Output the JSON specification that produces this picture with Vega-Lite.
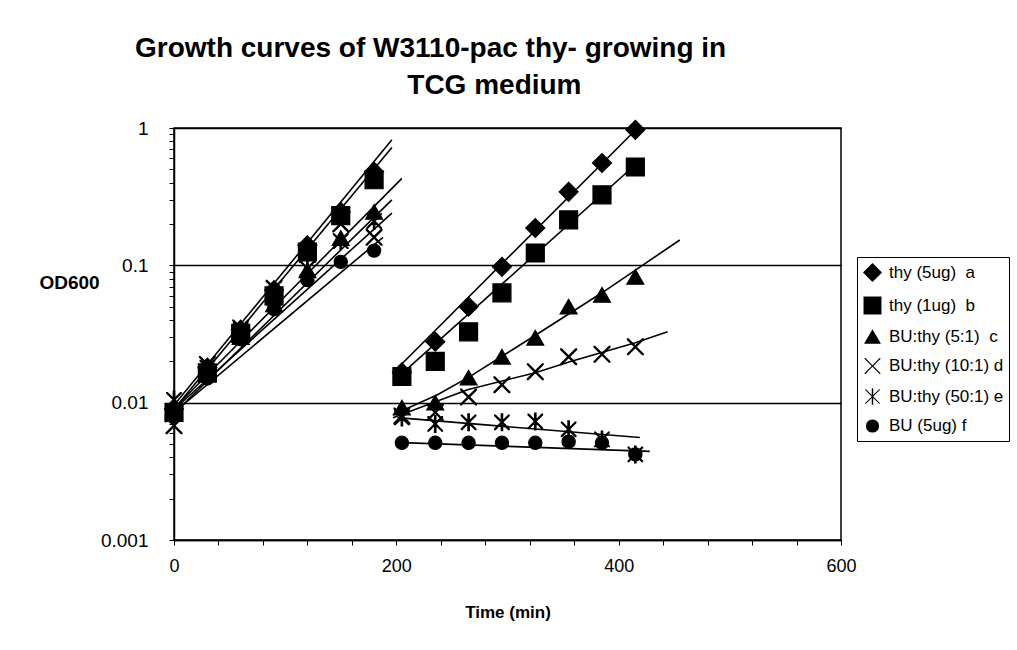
{
  "$schema": "https://vega.github.io/schema/vega-lite/v6.json",
  "width": 667,
  "height": 412,
  "autosize": {"type": "none"},
  "padding": {"left": 174, "top": 128, "right": 176, "bottom": 110},
  "background": "white",
  "title": {
    "text": ["Growth curves of W3110-pac thy- growing in", "\u200b\u00a0\u00a0\u00a0\u00a0\u00a0\u00a0\u00a0\u00a0\u00a0\u00a0\u00a0\u00a0\u00a0\u00a0\u00a0\u00a0\u00a0\u00a0\u00a0\u00a0\u00a0\u00a0\u00a0\u00a0\u00a0\u00a0\u00a0\u00a0\u00a0\u00a0\u00a0\u00a0\u00a0\u00a0\u00a0TCG medium"],
    "anchor": "start",
    "frame": "group",
    "dx": -39,
    "dy": -8,
    "fontSize": 28,
    "font": "Liberation Sans",
    "fontWeight": "bold",
    "color": "black",
    "lineHeight": 37,
    "offset": 10
  },
  "config": {
    "font": "Liberation Sans",
    "view": {"stroke": "black", "strokeWidth": 1.5},
    "axis": {
      "domainColor": "black",
      "domainWidth": 1.5,
      "tickColor": "black",
      "labelColor": "black",
      "titleColor": "black",
      "labelFont": "Liberation Sans",
      "titleFont": "Liberation Sans",
      "labelFlush": false,
      "labelOverlap": false
    }
  },
  "datasets": {
    "pts": [
      {"series": "a", "t": 0, "v": 0.009}, {"series": "a", "t": 30, "v": 0.018}, {"series": "a", "t": 60, "v": 0.034}, {"series": "a", "t": 90, "v": 0.066}, {"series": "a", "t": 120, "v": 0.14}, {"series": "a", "t": 150, "v": 0.245}, {"series": "a", "t": 180, "v": 0.48},
      {"series": "a", "t": 205, "v": 0.0166}, {"series": "a", "t": 235, "v": 0.0278}, {"series": "a", "t": 265, "v": 0.05}, {"series": "a", "t": 295, "v": 0.0975}, {"series": "a", "t": 325, "v": 0.187}, {"series": "a", "t": 355, "v": 0.343}, {"series": "a", "t": 385, "v": 0.556}, {"series": "a", "t": 415, "v": 0.97},
      {"series": "b", "t": 0, "v": 0.0085}, {"series": "b", "t": 30, "v": 0.0165}, {"series": "b", "t": 60, "v": 0.032}, {"series": "b", "t": 90, "v": 0.06}, {"series": "b", "t": 120, "v": 0.125}, {"series": "b", "t": 150, "v": 0.23}, {"series": "b", "t": 180, "v": 0.42},
      {"series": "b", "t": 205, "v": 0.0155}, {"series": "b", "t": 235, "v": 0.02}, {"series": "b", "t": 265, "v": 0.0328}, {"series": "b", "t": 295, "v": 0.063}, {"series": "b", "t": 325, "v": 0.123}, {"series": "b", "t": 355, "v": 0.214}, {"series": "b", "t": 385, "v": 0.326}, {"series": "b", "t": 415, "v": 0.52},
      {"series": "c", "t": 0, "v": 0.0088}, {"series": "c", "t": 30, "v": 0.016}, {"series": "c", "t": 60, "v": 0.03}, {"series": "c", "t": 90, "v": 0.052}, {"series": "c", "t": 120, "v": 0.092}, {"series": "c", "t": 150, "v": 0.158}, {"series": "c", "t": 180, "v": 0.245},
      {"series": "c", "t": 205, "v": 0.0092}, {"series": "c", "t": 235, "v": 0.01}, {"series": "c", "t": 265, "v": 0.0152}, {"series": "c", "t": 295, "v": 0.0216}, {"series": "c", "t": 325, "v": 0.0297}, {"series": "c", "t": 355, "v": 0.05}, {"series": "c", "t": 385, "v": 0.061}, {"series": "c", "t": 415, "v": 0.0825},
      {"series": "d", "t": 0, "v": 0.0068}, {"series": "d", "t": 30, "v": 0.019}, {"series": "d", "t": 60, "v": 0.035}, {"series": "d", "t": 90, "v": 0.068}, {"series": "d", "t": 120, "v": 0.12}, {"series": "d", "t": 150, "v": 0.2}, {"series": "d", "t": 180, "v": 0.16},
      {"series": "d", "t": 205, "v": 0.008}, {"series": "d", "t": 235, "v": 0.0085}, {"series": "d", "t": 265, "v": 0.011}, {"series": "d", "t": 295, "v": 0.0135}, {"series": "d", "t": 325, "v": 0.0168}, {"series": "d", "t": 355, "v": 0.0216}, {"series": "d", "t": 385, "v": 0.0225}, {"series": "d", "t": 415, "v": 0.0255},
      {"series": "e", "t": 0, "v": 0.0105}, {"series": "e", "t": 30, "v": 0.018}, {"series": "e", "t": 60, "v": 0.034}, {"series": "e", "t": 90, "v": 0.058}, {"series": "e", "t": 120, "v": 0.095}, {"series": "e", "t": 150, "v": 0.15}, {"series": "e", "t": 180, "v": 0.21},
      {"series": "e", "t": 205, "v": 0.0078}, {"series": "e", "t": 235, "v": 0.007}, {"series": "e", "t": 265, "v": 0.0072}, {"series": "e", "t": 295, "v": 0.0072}, {"series": "e", "t": 325, "v": 0.0073}, {"series": "e", "t": 355, "v": 0.0064}, {"series": "e", "t": 385, "v": 0.0054}, {"series": "e", "t": 415, "v": 0.0042},
      {"series": "f", "t": 0, "v": 0.008}, {"series": "f", "t": 30, "v": 0.015}, {"series": "f", "t": 60, "v": 0.029}, {"series": "f", "t": 90, "v": 0.048}, {"series": "f", "t": 120, "v": 0.078}, {"series": "f", "t": 150, "v": 0.106}, {"series": "f", "t": 180, "v": 0.128},
      {"series": "f", "t": 205, "v": 0.0051}, {"series": "f", "t": 235, "v": 0.0051}, {"series": "f", "t": 265, "v": 0.0051}, {"series": "f", "t": 295, "v": 0.0051}, {"series": "f", "t": 325, "v": 0.0051}, {"series": "f", "t": 355, "v": 0.0052}, {"series": "f", "t": 385, "v": 0.0051}, {"series": "f", "t": 415, "v": 0.0042}
    ],
    "trend": [
      {"series": "a", "seg": "L", "t": -8, "v": 0.008}, {"series": "a", "seg": "L", "t": 196, "v": 0.82},
      {"series": "a", "seg": "R", "t": 197, "v": 0.0165}, {"series": "a", "seg": "R", "t": 417, "v": 1.0},
      {"series": "b", "seg": "L", "t": -8, "v": 0.0075}, {"series": "b", "seg": "L", "t": 196, "v": 0.72},
      {"series": "b", "seg": "R", "t": 199, "v": 0.0147}, {"series": "b", "seg": "R", "t": 415, "v": 0.54},
      {"series": "c", "seg": "L", "t": -8, "v": 0.0078}, {"series": "c", "seg": "L", "t": 205, "v": 0.43},
      {"series": "c", "seg": "R", "t": 197, "v": 0.00818}, {"series": "c", "seg": "R", "t": 237, "v": 0.01143}, {"series": "c", "seg": "R", "t": 266, "v": 0.01546}, {"series": "c", "seg": "R", "t": 323, "v": 0.0302}, {"series": "c", "seg": "R", "t": 385, "v": 0.0631}, {"series": "c", "seg": "R", "t": 455, "v": 0.153},
      {"series": "d", "seg": "L", "t": -8, "v": 0.0072}, {"series": "d", "seg": "L", "t": 196, "v": 0.3},
      {"series": "d", "seg": "R", "t": 197, "v": 0.00778}, {"series": "d", "seg": "R", "t": 264, "v": 0.01244}, {"series": "d", "seg": "R", "t": 325, "v": 0.01653}, {"series": "d", "seg": "R", "t": 356, "v": 0.01986}, {"series": "d", "seg": "R", "t": 415, "v": 0.0273}, {"series": "d", "seg": "R", "t": 444, "v": 0.0328},
      {"series": "e", "seg": "L", "t": -8, "v": 0.0078}, {"series": "e", "seg": "L", "t": 196, "v": 0.24},
      {"series": "e", "seg": "R", "t": 201, "v": 0.00778}, {"series": "e", "seg": "R", "t": 419, "v": 0.00557},
      {"series": "f", "seg": "L", "t": -8, "v": 0.0075}, {"series": "f", "seg": "L", "t": 188, "v": 0.16},
      {"series": "f", "seg": "R", "t": 199, "v": 0.00514}, {"series": "f", "seg": "R", "t": 428, "v": 0.00442}
    ]
  },
  "encoding": {
    "x": {
      "field": "t",
      "type": "quantitative",
      "scale": {"domain": [0, 600], "nice": false, "zero": false},
      "axis": {
        "title": "Time (min)",
        "values": [0, 40, 80, 120, 160, 200, 240, 280, 320, 360, 400, 440, 480, 520, 560, 600],
        "labelExpr": "datum.value % 200 == 0 ? datum.label : ''",
        "grid": false,
        "tickSize": 5,
        "labelPadding": 12,
        "labelFontSize": 18,
        "titleFontSize": 17,
        "titleFontWeight": "bold",
        "titleY": 72,
        "titleBaseline": "middle"
      }
    },
    "y": {
      "field": "v",
      "type": "quantitative",
      "scale": {"type": "log", "domain": [0.001, 1], "nice": false},
      "axis": {
        "title": "OD600",
        "values": [0.001, 0.002, 0.003, 0.004, 0.005, 0.006, 0.007, 0.008, 0.009, 0.01, 0.02, 0.03, 0.04, 0.05, 0.06, 0.07, 0.08, 0.09, 0.1, 0.2, 0.3, 0.4, 0.5, 0.6, 0.7, 0.8, 0.9, 1],
        "labelExpr": "abs(log(datum.value)/LN10 - round(log(datum.value)/LN10)) < 0.001 ? toString(datum.value) : ''",
        "grid": true,
        "gridColor": "black",
        "gridWidth": 1.3,
        "gridOpacity": {"condition": {"test": "abs(log(datum.value)/LN10 - round(log(datum.value)/LN10)) < 0.001", "value": 1}, "value": 0},
        "tickSize": 5,
        "labelPadding": 21,
        "labelFontSize": 19,
        "titleAngle": 0,
        "titleFontSize": 19,
        "titleFontWeight": "bold",
        "titleAlign": "center",
        "titleBaseline": "middle",
        "titleX": -105,
        "titleY": 154
      }
    }
  },
  "layer": [
    {
      "data": {"name": "trend"},
      "mark": {"type": "line", "color": "black", "strokeWidth": 1.6},
      "encoding": {
        "detail": [{"field": "series"}, {"field": "seg"}]
      }
    },
    {
      "data": {"name": "pts"},
      "mark": {"type": "point", "filled": true, "color": "black", "stroke": "black", "strokeWidth": 1.2, "opacity": 1},
      "encoding": {
        "shape": {
          "field": "series",
          "type": "nominal",
          "scale": {
            "domain": ["a", "b", "c", "d", "e", "f"],
            "range": ["diamond", "square", "triangle-up", "M-1,-1L-0.9,-1L0,-0.1L0.9,-1L1,-1L1,-0.9L0.1,0L1,0.9L1,1L0.9,1L0,0.1L-0.9,1L-1,1L-1,0.9L-0.1,0L-1,-0.9Z", "M-1,-1L-0.9,-1L0,-0.1L0.9,-1L1,-1L1,-0.9L0.1,0L1,0.9L1,1L0.9,1L0,0.1L-0.9,1L-1,1L-1,0.9L-0.1,0L-1,-0.9ZM-0.1,-1.15L0.1,-1.15L0.1,1.15L-0.1,1.15Z", "circle"]
          },
          "legend": {
            "title": null,
            "orient": "none",
            "legendX": 683,
            "legendY": 129,
            "strokeColor": "black",
            "fillColor": "white",
            "padding": 5,
            "rowPadding": 8.5,
            "labelFontSize": 17,
            "labelColor": "black",
            "labelOffset": 6,
            "labelLimit": 300,
            "symbolStrokeColor": "black",
            "symbolFillColor": "black",
            "symbolStrokeWidth": 1.2,
            "labelExpr": "{'a': 'thy (5ug)\u00a0 a', 'b': 'thy (1ug)\u00a0 b', 'c': 'BU:thy (5:1)\u00a0 c', 'd': 'BU:thy (10:1) d', 'e': 'BU:thy (50:1) e', 'f': 'BU (5ug) f'}[datum.label]"
          }
        },
        "size": {
          "field": "series",
          "type": "nominal",
          "scale": {"domain": ["a", "b", "c", "d", "e", "f"], "range": [360, 175, 230, 380, 380, 130]},
          "legend": {
            "title": null,
            "orient": "none",
            "legendX": 683,
            "legendY": 129,
            "strokeColor": "black",
            "fillColor": "white",
            "padding": 5,
            "rowPadding": 8.5,
            "labelFontSize": 17,
            "labelColor": "black",
            "labelOffset": 6,
            "labelLimit": 300,
            "symbolStrokeColor": "black",
            "symbolFillColor": "black",
            "symbolStrokeWidth": 1.2,
            "labelExpr": "{'a': 'thy (5ug)\u00a0 a', 'b': 'thy (1ug)\u00a0 b', 'c': 'BU:thy (5:1)\u00a0 c', 'd': 'BU:thy (10:1) d', 'e': 'BU:thy (50:1) e', 'f': 'BU (5ug) f'}[datum.label]"
          }
        }
      }
    }
  ]
}
